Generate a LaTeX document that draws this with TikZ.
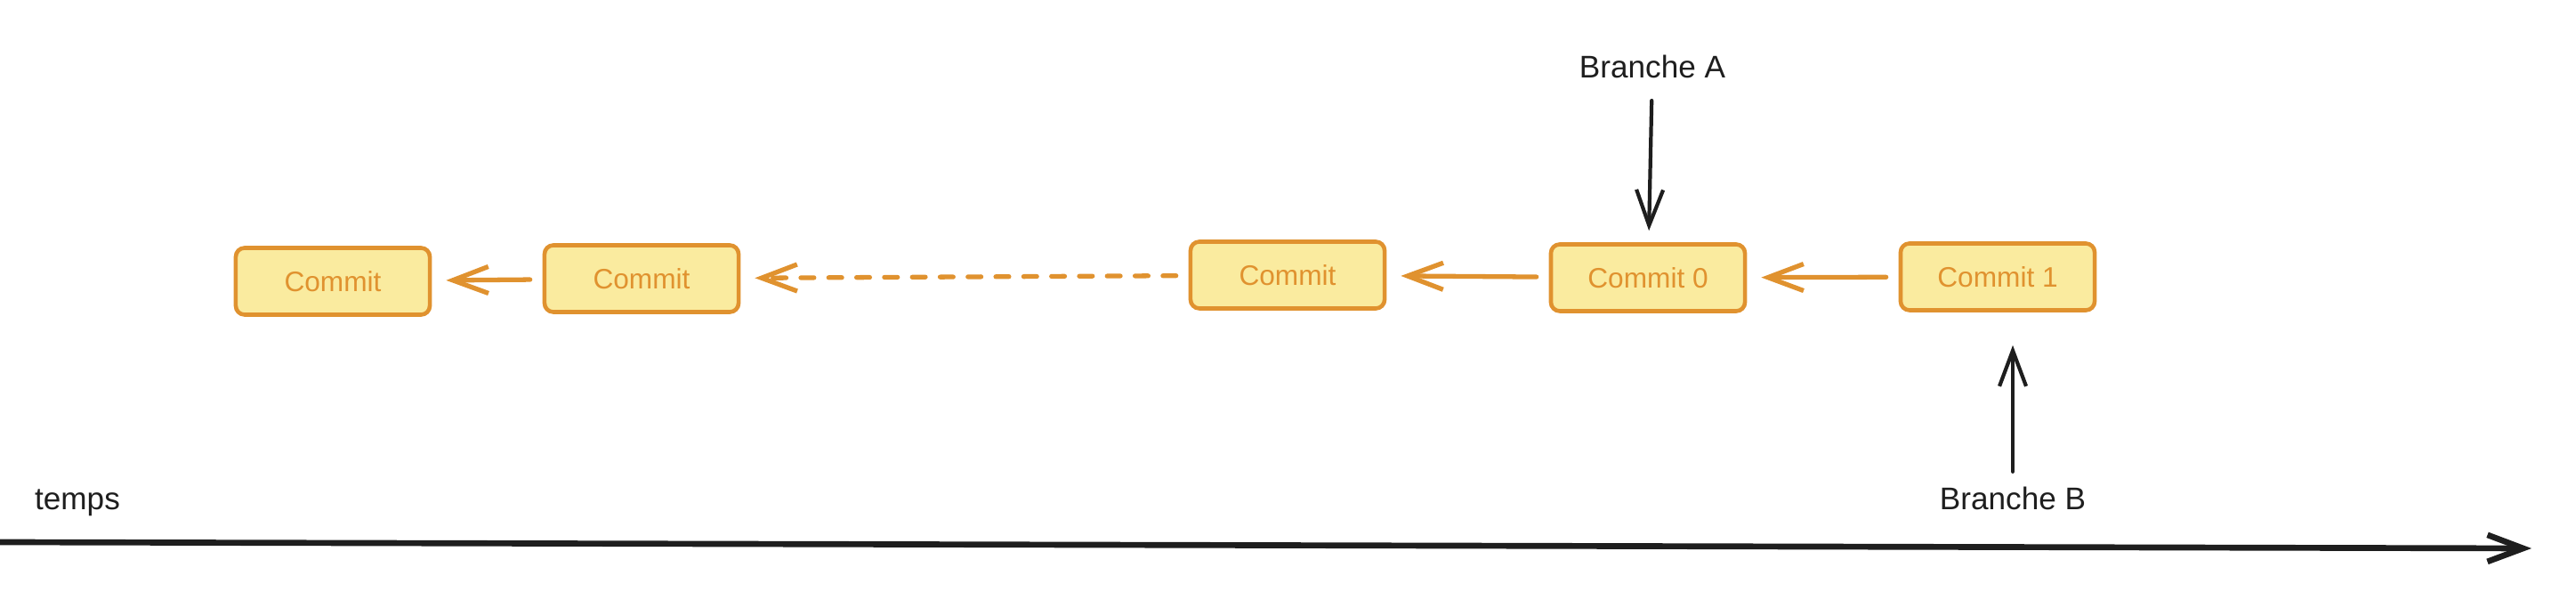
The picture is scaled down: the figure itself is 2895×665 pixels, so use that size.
\documentclass[tikz,border=0pt]{standalone}
\usepackage{fontspec}
\setmainfont{Liberation Sans}
\usetikzlibrary{arrows.meta}
\definecolor{commitline}{HTML}{E0922F}
\definecolor{commitfill}{HTML}{FAEB9F}
\definecolor{ink}{HTML}{1E1E1E}

\begin{document}
\begin{tikzpicture}[x=0.01cm, y=-0.01cm,
  main/.style = {draw=commitline, fill=commitfill, line width=1.3pt, rounded corners=0.1cm, minimum width=2.18cm, minimum height=0.75cm, text=commitline, font=\fontsize{9}{11}\selectfont},
  txt/.style = {text=ink, inner sep=0pt, anchor=base, font=\fontsize{10}{12}\selectfont},
  link/.style = {draw=commitline, line width=1.5pt, line cap=round, line join=round, -{Straight Barb[length=0.4cm, width=0.3cm]}, shorten <=0.14cm, shorten >=0.16cm},
  ptr/.style = {draw=ink, line width=1.2pt, line cap=round, line join=round, -{Straight Barb[length=0.4cm, width=0.3cm]}}]
            \useasboundingbox (0,0) rectangle (2895,665);
            % commits, oldest on the left
            \node[main] (a) at (374,316) {Commit};
            \node[main] (b) at (721,313) {Commit};
            \node[main] (c) at (1447,309) {Commit};
            \node[main] (0) at (1852,312) {Commit 0};
            \node[main] (1) at (2245,311) {Commit 1};
            % labels
            \node[txt] (A) at (1857,88) {Branche A};
            \node[txt] (B) at (2262,573) {Branche B};
            \node[txt] (temps) at (87,573) {temps};
            \coordinate (t0) at (0,609);
            \coordinate (t1) at (2845,616);
            % parent links
            \draw[link] (b) -- (a);
            \draw[link, dash pattern=on 4.2pt off 4.7pt] (c) -- (b);
            \draw[link] (0) -- (c);
            \draw[link] (1) -- (0);
            % branch pointers
            \draw[ptr, shorten <=0.24cm, shorten >=0.13cm] (A) -- (0);
            \draw[ptr, shorten <=0.17cm, shorten >=0.37cm] (B.north) -- (B.north |- 1.south);
            % time axis
            \draw[ptr, line width=1.9pt] (t0) -- (t1);
\end{tikzpicture}
\end{document}
